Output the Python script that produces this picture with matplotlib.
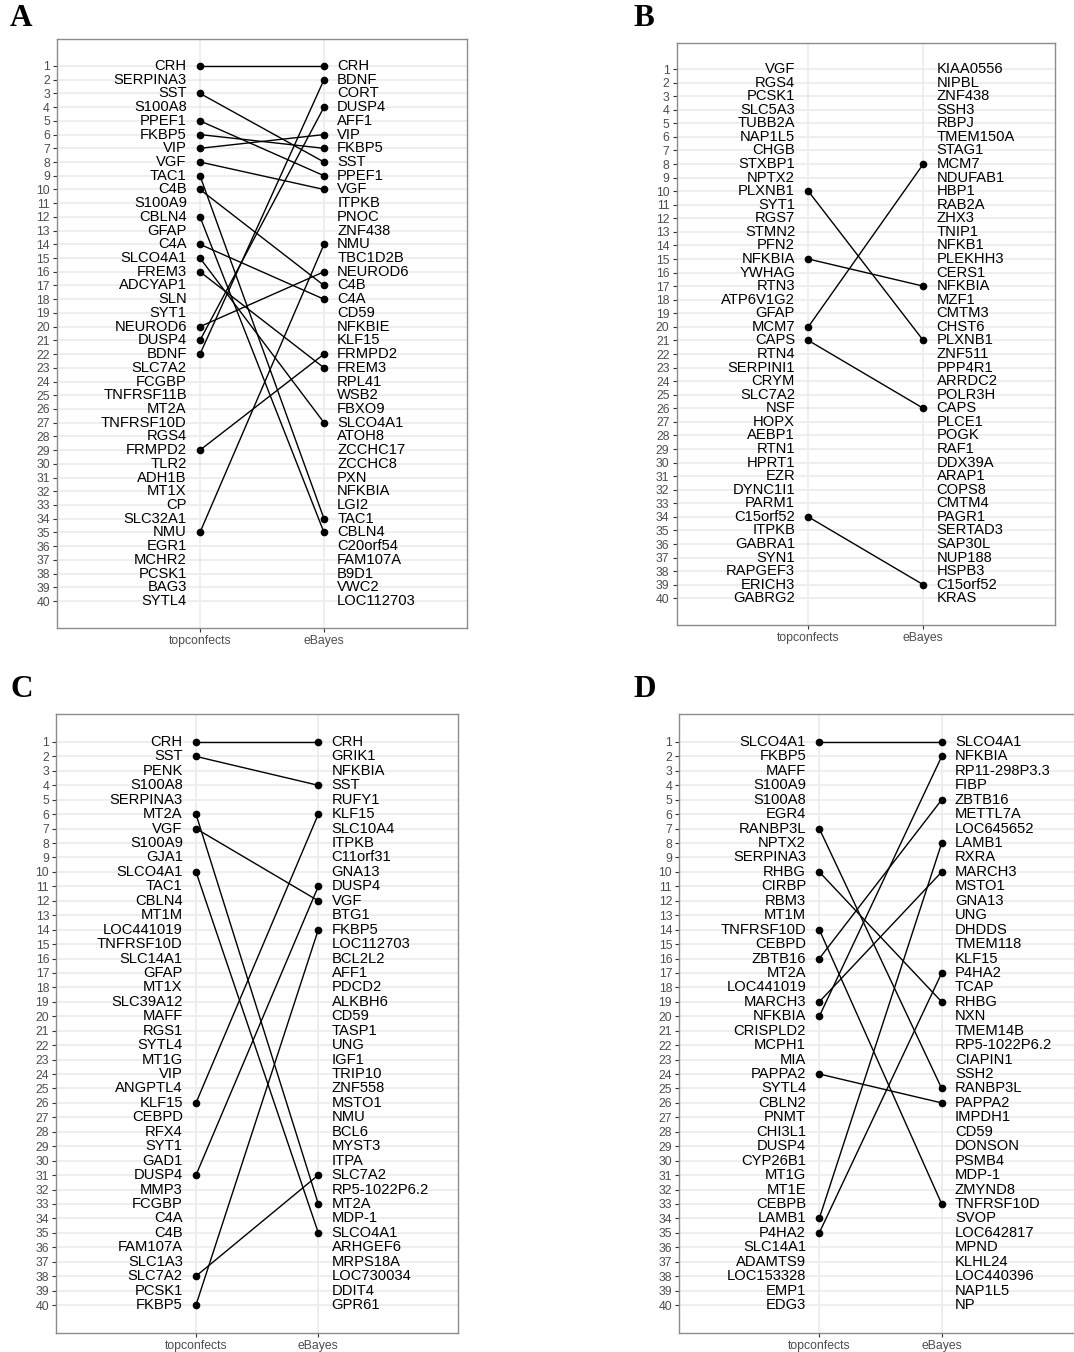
import matplotlib
matplotlib.use("Agg")
import matplotlib.pyplot as plt

# ---------------- data ----------------
methods = ["topconfects", "eBayes"]
rank_ticks = list(range(1, 41))

A_topconfects = ["CRH", "SERPINA3", "SST", "S100A8", "PPEF1", "FKBP5", "VIP", "VGF", "TAC1", "C4B",
                 "S100A9", "CBLN4", "GFAP", "C4A", "SLCO4A1", "FREM3", "ADCYAP1", "SLN", "SYT1", "NEUROD6",
                 "DUSP4", "BDNF", "SLC7A2", "FCGBP", "TNFRSF11B", "MT2A", "TNFRSF10D", "RGS4", "FRMPD2", "TLR2",
                 "ADH1B", "MT1X", "CP", "SLC32A1", "NMU", "EGR1", "MCHR2", "PCSK1", "BAG3", "SYTL4"]
A_ebayes = ["CRH", "BDNF", "CORT", "DUSP4", "AFF1", "VIP", "FKBP5", "SST", "PPEF1", "VGF",
            "ITPKB", "PNOC", "ZNF438", "NMU", "TBC1D2B", "NEUROD6", "C4B", "C4A", "CD59", "NFKBIE",
            "KLF15", "FRMPD2", "FREM3", "RPL41", "WSB2", "FBXO9", "SLCO4A1", "ATOH8", "ZCCHC17", "ZCCHC8",
            "PXN", "NFKBIA", "LGI2", "TAC1", "CBLN4", "C20orf54", "FAM107A", "B9D1", "VWC2", "LOC112703"]

B_topconfects = ["VGF", "RGS4", "PCSK1", "SLC5A3", "TUBB2A", "NAP1L5", "CHGB", "STXBP1", "NPTX2", "PLXNB1",
                 "SYT1", "RGS7", "STMN2", "PFN2", "NFKBIA", "YWHAG", "RTN3", "ATP6V1G2", "GFAP", "MCM7",
                 "CAPS", "RTN4", "SERPINI1", "CRYM", "SLC7A2", "NSF", "HOPX", "AEBP1", "RTN1", "HPRT1",
                 "EZR", "DYNC1I1", "PARM1", "C15orf52", "ITPKB", "GABRA1", "SYN1", "RAPGEF3", "ERICH3", "GABRG2"]
B_ebayes = ["KIAA0556", "NIPBL", "ZNF438", "SSH3", "RBPJ", "TMEM150A", "STAG1", "MCM7", "NDUFAB1", "HBP1",
            "RAB2A", "ZHX3", "TNIP1", "NFKB1", "PLEKHH3", "CERS1", "NFKBIA", "MZF1", "CMTM3", "CHST6",
            "PLXNB1", "ZNF511", "PPP4R1", "ARRDC2", "POLR3H", "CAPS", "PLCE1", "POGK", "RAF1", "DDX39A",
            "ARAP1", "COPS8", "CMTM4", "PAGR1", "SERTAD3", "SAP30L", "NUP188", "HSPB3", "C15orf52", "KRAS"]

C_topconfects = ["CRH", "SST", "PENK", "S100A8", "SERPINA3", "MT2A", "VGF", "S100A9", "GJA1", "SLCO4A1",
                 "TAC1", "CBLN4", "MT1M", "LOC441019", "TNFRSF10D", "SLC14A1", "GFAP", "MT1X", "SLC39A12", "MAFF",
                 "RGS1", "SYTL4", "MT1G", "VIP", "ANGPTL4", "KLF15", "CEBPD", "RFX4", "SYT1", "GAD1",
                 "DUSP4", "MMP3", "FCGBP", "C4A", "C4B", "FAM107A", "SLC1A3", "SLC7A2", "PCSK1", "FKBP5"]
C_ebayes = ["CRH", "GRIK1", "NFKBIA", "SST", "RUFY1", "KLF15", "SLC10A4", "ITPKB", "C11orf31", "GNA13",
            "DUSP4", "VGF", "BTG1", "FKBP5", "LOC112703", "BCL2L2", "AFF1", "PDCD2", "ALKBH6", "CD59",
            "TASP1", "UNG", "IGF1", "TRIP10", "ZNF558", "MSTO1", "NMU", "BCL6", "MYST3", "ITPA",
            "SLC7A2", "RP5-1022P6.2", "MT2A", "MDP-1", "SLCO4A1", "ARHGEF6", "MRPS18A", "LOC730034", "DDIT4", "GPR61"]

D_topconfects = ["SLCO4A1", "FKBP5", "MAFF", "S100A9", "S100A8", "EGR4", "RANBP3L", "NPTX2", "SERPINA3", "RHBG",
                 "CIRBP", "RBM3", "MT1M", "TNFRSF10D", "CEBPD", "ZBTB16", "MT2A", "LOC441019", "MARCH3", "NFKBIA",
                 "CRISPLD2", "MCPH1", "MIA", "PAPPA2", "SYTL4", "CBLN2", "PNMT", "CHI3L1", "DUSP4", "CYP26B1",
                 "MT1G", "MT1E", "CEBPB", "LAMB1", "P4HA2", "SLC14A1", "ADAMTS9", "LOC153328", "EMP1", "EDG3"]
D_ebayes = ["SLCO4A1", "NFKBIA", "RP11-298P3.3", "FIBP", "ZBTB16", "METTL7A", "LOC645652", "LAMB1", "RXRA", "MARCH3",
            "MSTO1", "GNA13", "UNG", "DHDDS", "TMEM118", "KLF15", "P4HA2", "TCAP", "RHBG", "NXN",
            "TMEM14B", "RP5-1022P6.2", "CIAPIN1", "SSH2", "RANBP3L", "PAPPA2", "IMPDH1", "CD59", "DONSON", "PSMB4",
            "MDP-1", "ZMYND8", "TNFRSF10D", "SVOP", "LOC642817", "MPND", "KLHL24", "LOC440396", "NAP1L5", "NP"]

panel_letters = ["A", "B", "C", "D"]
panel_lists = [(A_topconfects, A_ebayes), (B_topconfects, B_ebayes),
               (C_topconfects, C_ebayes), (D_topconfects, D_ebayes)]

# ---------------- layout (pixels) ----------------
W, H = 1074, 1352
# (x_topconfects, x_ebayes, x-expansion, y_row1, y_row40, label_x, label_baseline)
geom = [
    (200.0, 324.0, 1.153, 66.0, 601.0, 10, 26),
    (808.3, 923.3, 1.145, 69.0, 598.3, 633, 26),
    (196.0, 318.3, 1.143, 742.0, 1305.0, 10, 697),
    (819.3, 941.7, 1.144, 742.0, 1305.0, 633, 697),
]

plt.rcParams["font.family"] = ["Liberation Sans", "DejaVu Sans"]
fig = plt.figure(figsize=(W / 100, H / 100), dpi=100)

YEXP = 1.95
for letter, (tc, eb), (xt, xe, ex, y1, y40, lx, ly) in zip(panel_letters, panel_lists, geom):
    sx = xe - xt
    left = xt - ex * sx
    right = xe + ex * sx
    sy = (y40 - y1) / 39.0
    top = y1 - YEXP * sy
    bottom = y40 + YEXP * sy
    ax = fig.add_axes([left / W, 1 - bottom / H, (right - left) / W, (bottom - top) / H])
    ax.set_xlim(1 - ex, 2 + ex)
    ax.set_ylim(40 + YEXP, 1 - YEXP)

    ax.set_yticks(rank_ticks)
    ax.set_yticklabels([str(r) for r in rank_ticks])
    ax.set_xticks([1, 2])
    ax.set_xticklabels(methods)
    ax.grid(True, color="#EBEBEB", lw=1.2)
    ax.set_axisbelow(True)
    ax.tick_params(axis="both", length=2.9, width=0.8, color="#333333",
                   labelcolor="#4D4D4D", labelsize=8.8, pad=2.2)
    for sp in ax.spines.values():
        sp.set_color("#8C8C8C")
        sp.set_linewidth(1.0)

    # connecting lines and dots for genes found in both lists
    for i, g in enumerate(tc):
        if g in eb:
            j = eb.index(g)
            ax.plot([1, 2], [i + 1, j + 1], color="black", lw=1.0, zorder=3,
                    marker="o", markersize=4.5, solid_capstyle="round")

    for i, g in enumerate(tc):
        ax.annotate(g, (1, i + 1), xytext=(-9.5, 0), textcoords="offset points",
                    ha="right", va="center", fontsize=10.6, color="black", zorder=5)
    for j, g in enumerate(eb):
        ax.annotate(g, (2, j + 1), xytext=(9.5, 0), textcoords="offset points",
                    ha="left", va="center", fontsize=10.6, color="black", zorder=5)

    fig.text(lx / W, 1 - ly / H, letter, ha="left", va="baseline",
             fontsize=22.5, fontweight="bold", family=["Liberation Serif", "DejaVu Serif"])

fig.savefig("out.png", dpi=100, facecolor="white")
